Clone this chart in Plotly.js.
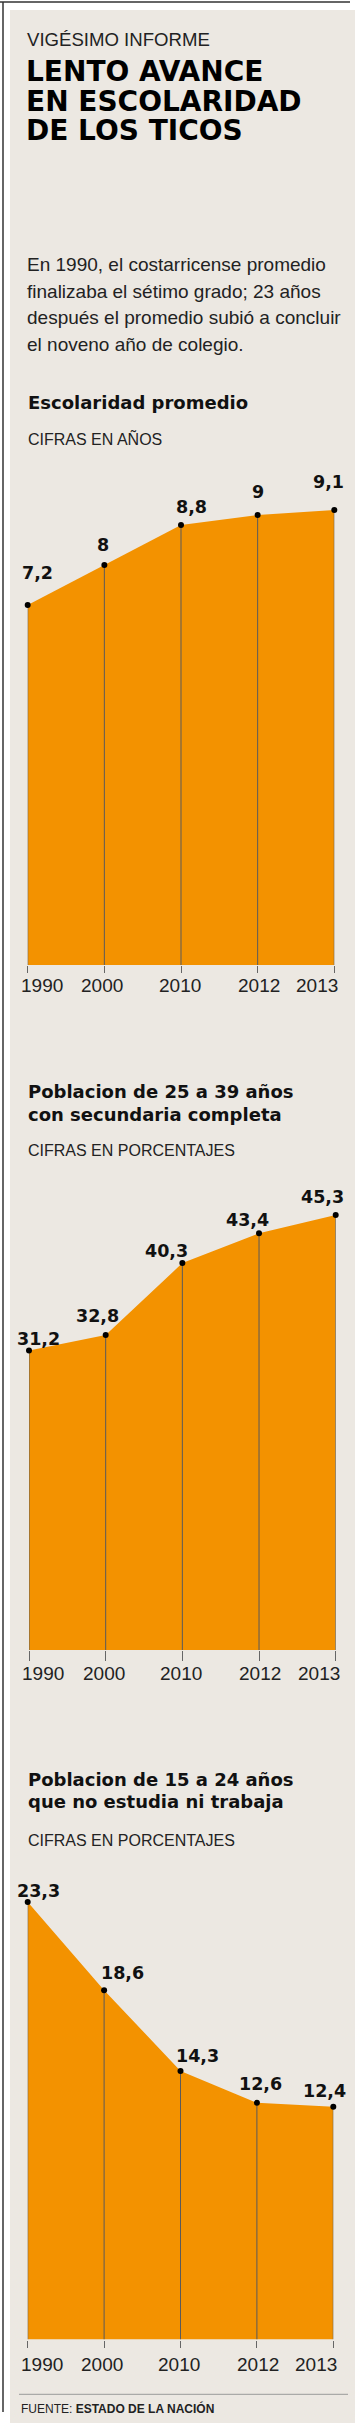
<!DOCTYPE html>
<html>
<head>
<meta charset="utf-8">
<script src="https://cdn.plot.ly/plotly-3.0.1.min.js"></script>
<style>
  html, body { margin: 0; padding: 0; background: #ffffff; }
  #chart { width: 355px; height: 2425px; }
</style>
</head>
<body>
<div id="chart"></div>
<script>
// ---------------- DATA ----------------
const years = ['1990', '2000', '2010', '2012', '2013'];
const escolaridadPromedio = [7.2, 8, 8.8, 9, 9.1];            // años
const secundariaCompleta = [31.2, 32.8, 40.3, 43.4, 45.3];    // % población 25-39
const niEstudiaNiTrabaja = [23.3, 18.6, 14.3, 12.6, 12.4];    // % población 15-24

const kicker = 'VIGÉSIMO INFORME';
const titleLines = ['LENTO AVANCE', 'EN ESCOLARIDAD', 'DE LOS TICOS'];
const introLines = [
  'En 1990, el costarricense promedio',
  'finalizaba el sétimo grado; 23 años',
  'después el promedio subió a concluir',
  'el noveno año de colegio.'
];
const chartTitles = [
  ['Escolaridad promedio'],
  ['Poblacion de 25 a 39 años', 'con secundaria completa'],
  ['Poblacion de 15 a 24 años', 'que no estudia ni trabaja']
];
const chartUnits = ['CIFRAS EN AÑOS', 'CIFRAS EN PORCENTAJES', 'CIFRAS EN PORCENTAJES'];
const sourceLabel = 'FUENTE: ';
const sourceName = 'ESTADO DE LA NACIÓN';

// ---------------- STYLE / LAYOUT ----------------
const W = 355, H = 2425;
const ORANGE = '#F39200';
const BEIGE = '#ECE8E2';
const BOLD = 'DejaVu Sans, Verdana, sans-serif';
const REG = 'Liberation Sans, Arial, Helvetica, sans-serif';
// (ascent - descent) / 2 of each font, in em: distance from box centre to baseline
const MID2BASE = { bold: (0.928 - 0.236) / 2, reg: (0.905 - 0.212) / 2 };

const px2x = p => p / W;
const py2y = p => 1 - p / H;

const charts = [
  { values: escolaridadPromedio, xDom: [27.7, 334.3], yTop: 465, yBottom: 965, range: [0, 10],
    tickLabelY: 985.8, ticklen: 7,
    labelShift: [[10, 32], [-1.6, 20], [10.7, 18], [0, 23], [-5.6, 28]],
    titleBase: [408.3], unitBase: 444.3 },
  { values: secundariaCompleta, xDom: [29, 335.7], yTop: 1170, yBottom: 1650, range: [0, 50],
    tickLabelY: 1673, ticklen: 10,
    labelShift: [[9.8, 11.5], [-8, 18.8], [-16.3, 11.8], [-11.5, 13.4], [-13.2, 18.4]],
    titleBase: [1097.3, 1120.5], unitBase: 1156 },
  { values: niEstudiaNiTrabaja, xDom: [27.7, 333.3], yTop: 1870, yBottom: 2339.5, range: [0, 25],
    tickLabelY: 2364.3, ticklen: 7,
    labelShift: [[11.1, 11.3], [17.9, 16.9], [17, 15.2], [3.9, 18.9], [-9.3, 15.9]],
    titleBase: [1785.7, 1808], unitBase: 1845.7 }
];
const tickShift = [14, -2, -1.5, 1, -17];

const fmt = v => String(v).replace('.', ',');

const annotations = [];
function textLine(text, xPx, basePx, size, kind, color, boxH) {
  const a = {
    text: text, xref: 'paper', yref: 'paper',
    x: px2x(xPx), y: py2y(basePx - MID2BASE[kind] * size),
    xanchor: 'left', yanchor: 'middle', valign: 'middle', showarrow: false,
    borderpad: 0, borderwidth: 0,
    font: { family: kind === 'bold' ? BOLD : REG, size: size, color: color,
            weight: kind === 'bold' ? 700 : 400 }
  };
  if (boxH) a.height = boxH;
  annotations.push(a);
}

// header
textLine(kicker, 27, 45.7, 18.6, 'reg', '#222222');
[81.4, 110.8, 140.2].forEach((b, i) => textLine(titleLines[i], 26, b, 28, 'bold', '#000000', 27));
[270.7, 297.7, 324.3, 350.7].forEach((b, i) => textLine(introLines[i], 27, b, 19, 'reg', '#222222'));

const traces = [];
const layout = {
  width: W, height: H,
  margin: { l: 0, r: 0, t: 0, b: 0, pad: 0 },
  paper_bgcolor: '#ffffff',
  plot_bgcolor: 'rgba(0,0,0,0)',
  showlegend: false,
  shapes: [
    { type: 'rect', xref: 'paper', yref: 'paper', x0: px2x(10), x1: 1, y0: py2y(2423), y1: py2y(10),
      fillcolor: BEIGE, line: { width: 0 }, layer: 'below' },
    { type: 'line', xref: 'paper', yref: 'paper', x0: 0, x1: px2x(350), y0: py2y(2), y1: py2y(2),
      line: { color: '#333333', width: 1.5 }, layer: 'below' },
    { type: 'line', xref: 'paper', yref: 'paper', x0: px2x(3), x1: px2x(3), y0: py2y(2), y1: py2y(2412),
      line: { color: '#333333', width: 1.5 }, layer: 'below' },
    { type: 'line', xref: 'paper', yref: 'paper', x0: px2x(19), x1: px2x(348), y0: py2y(2394.3), y1: py2y(2394.3),
      line: { color: '#9a9a9a', width: 1 }, layer: 'below' }
  ],
  annotations: annotations
};

charts.forEach((c, k) => {
  const n = k === 0 ? '' : String(k + 1);
  const xa = 'x' + n, ya = 'y' + n;

  chartTitles[k].forEach((t, i) => textLine(t, 27.5, c.titleBase[i], 18, 'bold', '#111111'));
  textLine(chartUnits[k], 28, c.unitBase, 16, 'reg', '#222222');

  traces.push({
    type: 'scatter', mode: 'lines+markers',
    x: years, y: c.values, xaxis: xa, yaxis: ya,
    fill: 'tozeroy', fillcolor: ORANGE,
    line: { color: ORANGE, width: 0 },
    marker: { color: '#000000', size: 6 },
    error_y: { type: 'data', symmetric: false, array: c.values.map(() => 0), arrayminus: c.values,
               color: '#5a5a5a', thickness: 1, width: 0 },
    cliponaxis: false, hoverinfo: 'skip'
  });

  layout['xaxis' + n] = {
    domain: [px2x(c.xDom[0]), px2x(c.xDom[1])], anchor: ya,
    type: 'category', categoryorder: 'array', categoryarray: years,
    range: [0, years.length - 1],
    showgrid: false, zeroline: false, showline: false,
    ticks: 'outside', ticklen: c.ticklen, tickwidth: 1, tickcolor: '#666666',
    showticklabels: false, fixedrange: true
  };
  layout['yaxis' + n] = {
    domain: [py2y(c.yBottom), py2y(c.yTop)], anchor: xa,
    range: c.range, showgrid: false, zeroline: false, showline: false,
    showticklabels: false, ticks: '', fixedrange: true
  };

  // value labels (category axis: position by category index)
  c.values.forEach((v, i) => {
    annotations.push({
      text: fmt(v), xref: xa, yref: ya, x: i, y: v,
      xshift: c.labelShift[i][0], yshift: c.labelShift[i][1],
      xanchor: 'center', yanchor: 'middle', showarrow: false, borderpad: 0, borderwidth: 0,
      font: { family: BOLD, size: 17.5, color: '#111111', weight: 700 }
    });
  });
  // tick labels
  years.forEach((yr, i) => {
    annotations.push({
      text: yr, xref: xa, yref: 'paper', x: i, y: py2y(c.tickLabelY),
      xshift: tickShift[i], xanchor: 'center', yanchor: 'middle', showarrow: false,
      borderpad: 0, borderwidth: 0,
      font: { family: REG, size: 19, color: '#222222' }
    });
  });
});

// source
textLine(sourceLabel + '<b>' + sourceName + '</b>', 20.5, 2412.7, 12, 'reg', '#222222');

Plotly.newPlot('chart', traces, layout, { staticPlot: true, displayModeBar: false });
</script>
</body>
</html>
